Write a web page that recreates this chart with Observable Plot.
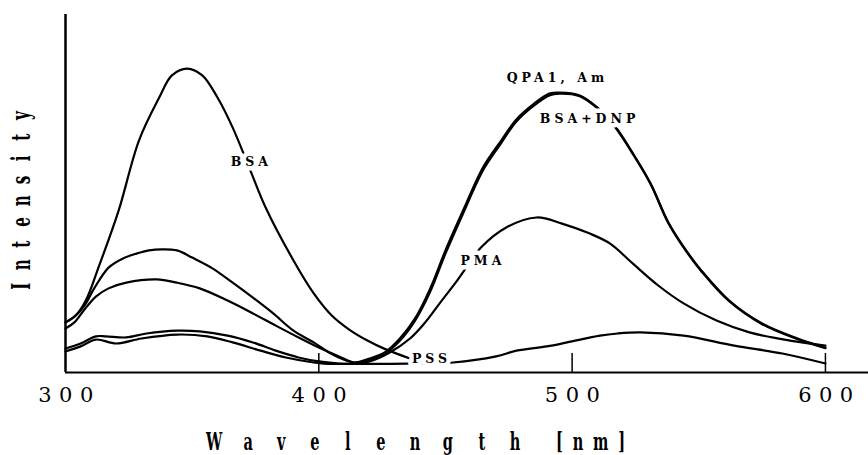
<!DOCTYPE html>
<html>
<head>
<meta charset="utf-8">
<script src="https://cdn.jsdelivr.net/npm/d3@7"></script>
<script src="https://cdn.jsdelivr.net/npm/@observablehq/plot@0.6"></script>
<style>
  html, body { margin: 0; padding: 0; background: #fff; }
  #figure { position: relative; width: 868px; height: 455px; overflow: hidden; background: #fff; }
  #figure svg { display: block; }
  .tick-label text { letter-spacing: 7.5px; }
  .curve-label text { letter-spacing: 4px; paint-order: stroke; }
  .axis-title { position: absolute; font-family: "DejaVu Serif", serif; font-weight: bold; color: #000; white-space: nowrap; line-height: 1; display: flex; }
  .axis-title .cell { display: inline-flex; justify-content: center; }
  .axis-title .glyph { display: inline-block; transform: scaleX(0.58); }
  .axis-title .unit { display: inline-block; transform: scaleX(0.58); transform-origin: left center; letter-spacing: 17px; }
</style>
</head>
<body>
<div id="figure">
  <div id="chart"></div>
  <div id="x-title" class="axis-title"></div>
  <div id="y-title" class="axis-title"></div>
</div>
<script>
// Emission spectra, intensity in arbitrary units vs. wavelength (nm)
const BSA = [[300,14.0],[304,15.9],[308,20.1],[313,29.3],[321,45.3],[329,64.8],[337,76.8],[342,83.0],[348,84.9],[354,83.0],[360,76.8],[366,68.4],[373,56.4],[379,46.1],[390,31.3],[398,22.1],[405,16.0],[412,12.0],[419,9.0],[426,6.6],[436,3.9]];
const QPA1_AM = [[300,14.0],[304,15.9],[307.5,18.7],[311.5,23.7],[317,29.3],[322.5,31.8],[328,33.2],[333,34.1],[338,34.4],[344,34.1],[350,32.1],[358,29.1],[366,25.1],[374,20.9],[382,16.5],[390,11.7],[398,8.4],[404,5.6],[410,3.6],[414,2.8],[420,3.9],[426,5.6],[432,9.5],[438,15.1],[444,23.5],[450,34.1],[457,45.3],[465,57.5],[472,64.8],[478,70.7],[485,75.1],[491,77.9],[495,78.2],[503,77.4],[510,74.0],[517,68.7],[524,61.2],[531,52.8],[538,41.9],[545,34.1],[551,28.5],[562,20.1],[575,13.7],[589,9.5],[600,7.0]];
const BSA_DNP = [[300,12.3],[303.5,14.0],[307.5,17.6],[312,21.2],[317,23.5],[324,25.1],[336,26.0],[344,25.1],[353,23.5],[364,20.1],[374,16.5],[383,13.1],[392,9.8],[400,7.0],[408,4.5],[414,2.8],[420,3.6],[426,5.3],[432,8.9],[438,14.5],[444,22.6],[450,33.2],[457,44.5],[465,56.7],[472,64.1],[478,70.1],[485,74.6],[491,77.4],[495,77.9],[503,77.2],[510,73.8],[517,68.5],[524,61.0],[531,52.6],[538,41.7],[545,33.9],[551,28.3],[562,19.9],[575,13.5],[589,9.3],[600,6.8]];
const PMA = [[300,6.7],[306,8.1],[312,10.1],[316,10.1],[324,9.8],[332,10.9],[344,11.7],[353,11.5],[364,10.3],[374,8.4],[383,6.1],[392,4.2],[400,3.1],[408,2.5],[414,2.5],[420,3.1],[428,5.6],[436,9.5],[442,14.0],[448,19.6],[454,25.1],[458,29.1],[464,34.9],[474,40.5],[486,43.3],[496,41.6],[507,38.8],[515,36.0],[524,30.4],[534,24.3],[544,19.3],[557,14.5],[570,11.2],[586,8.9],[600,7.5]];
const PSS = [[300,5.9],[306,7.3],[312,9.2],[320,8.1],[330,9.5],[344,10.6],[356,10.1],[366,8.4],[377,6.1],[387,4.2],[398,2.8],[402,2.5],[435,2.5],[453,2.8],[470,4.5],[478,6.1],[490,7.3],[498,8.4],[511,10.3],[518,10.9],[527,11.2],[544,10.3],[564,7.5],[583,5.3],[600,2.5]];

const seriesNames = ["BSA", "QPA1, Am", "BSA+DNP", "PMA", "PSS"];
const seriesPoints = [BSA, QPA1_AM, BSA_DNP, PMA, PSS];

// Curve labels, placed on the curves in data units
const labelText = ["BSA", "QPA1, Am", "BSA+DNP", "PMA", "PSS"];
const labelNm = [372.6, 493.4, 506.1, 464.0, 443.7];
const labelLevel = [58.7, 82.3, 70.8, 31.1, 3.9];

const xTicks = [300, 400, 500, 600];

const rows = seriesNames.flatMap((name, i) =>
  seriesPoints[i].map(([nm, v]) => ({series: name, nm, intensity: v}))
);
const labels = labelText.map((t, i) => ({text: t, nm: labelNm[i], intensity: labelLevel[i]}));

const chart = Plot.plot({
  width: 868,
  height: 420,
  marginTop: 14,
  marginLeft: 65,
  marginRight: 0,
  marginBottom: 48,
  x: {domain: [300, 617]},
  y: {domain: [0, 100], axis: null},
  marks: [
    Plot.line(rows, {x: "nm", y: "intensity", z: "series", curve: "catmull-rom", stroke: "#000", strokeWidth: 2.2, strokeLinejoin: "round"}),
    Plot.ruleX([300], {stroke: "#000", strokeWidth: 2.5}),
    Plot.ruleY([0], {stroke: "#000", strokeWidth: 2.2}),
    Plot.ruleX(xTicks.slice(1), {stroke: "#000", strokeWidth: 1.5, insetTop: 339}),
    Plot.axisX(xTicks, {tickSize: 0, tickPadding: 15, fontSize: 21, fontFamily: "DejaVu Serif", fill: "#000", dx: 4, label: null, className: "tick-label"}),
    Plot.text(labels, {x: "nm", y: "intensity", text: "text", fontFamily: "DejaVu Serif", fontWeight: "bold", fontSize: 12.5, fill: "#000", stroke: "#fff", strokeWidth: 9, dx: 2, className: "curve-label"})
  ]
});
document.getElementById("chart").append(chart);

// Axis titles: condensed, evenly spaced letters
function spaced(el, word, pitch, fontSize) {
  for (const ch of word) {
    const cell = document.createElement("span");
    cell.className = "cell";
    cell.style.width = pitch + "px";
    const g = document.createElement("span");
    g.className = "glyph";
    g.textContent = ch;
    cell.append(g);
    el.append(cell);
  }
  el.style.fontSize = fontSize + "px";
}

const xt = document.getElementById("x-title");
spaced(xt, "Wavelength", 33.4, 25);
const gap = document.createElement("span");
gap.style.width = "24px";
gap.style.display = "inline-block";
xt.append(gap);
const unit = document.createElement("span");
unit.className = "unit";
unit.textContent = "[nm]";
xt.append(unit);
xt.style.left = "197.8px";
xt.style.top = "429px";

const yt = document.getElementById("y-title");
const yPitch = 21.4, yFont = 26, yWord = "Intensity";
spaced(yt, yWord, yPitch, yFont);
const yw = yPitch * yWord.length;
const ycx = 30 - 0.346 * yFont, ycy = 200.7;
yt.style.width = yw + "px";
yt.style.height = yFont + "px";
yt.style.left = (ycx - yw / 2) + "px";
yt.style.top = (ycy - yFont / 2) + "px";
yt.style.transform = "rotate(-90deg)";
yt.style.transformOrigin = "center center";
</script>
</body>
</html>
